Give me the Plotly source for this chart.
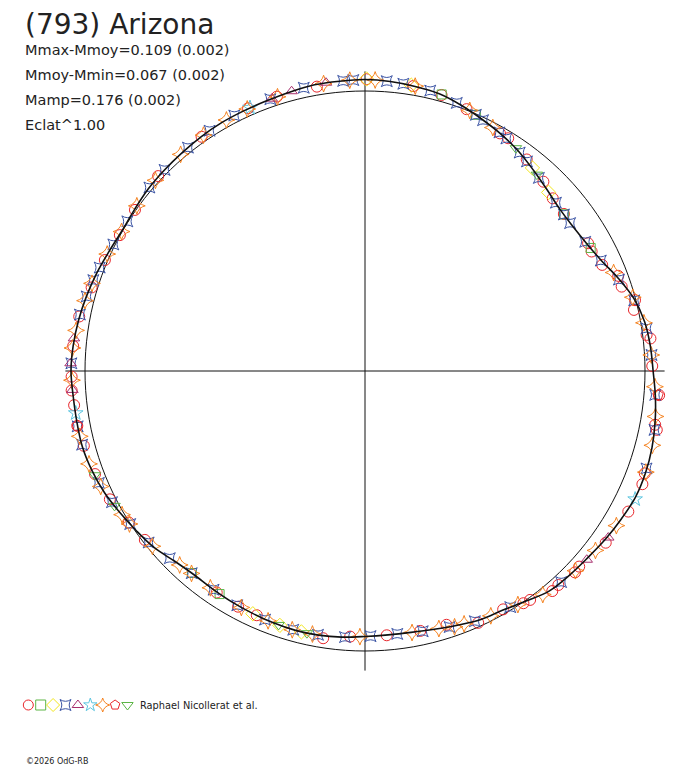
import numpy as np
import plotly.graph_objects as go

TITLE = "(793) Arizona"
STATS = [
    "Mmax-Mmoy=0.109 (0.002)",
    "Mmoy-Mmin=0.067 (0.002)",
    "Mamp=0.176 (0.002)",
    "Eclat^1.00",
]
CREDIT = "Raphael Nicollerat et al."
COPYRIGHT = "\u00a92026 OdG-RB"

# fitted curve: rotation phase in degrees (clockwise from top), flux relative to mean (=1)
curve_phase = [0, 5, 10, 15, 20, 25, 30, 35, 40, 45, 50, 55, 60, 65, 70, 75, 80, 85,
               90, 95, 100, 105, 110, 115, 120, 125, 130, 135, 140, 145, 150, 155, 160, 165, 170, 175,
               180, 185, 190, 195, 200, 205, 210, 215, 220, 225, 230, 235, 240, 245, 250, 255, 260, 265,
               270, 275, 280, 285, 290, 295, 300, 305, 310, 315, 320, 325, 330, 335, 340, 345, 350, 355]
curve_flux = [1.041, 1.038, 1.032, 1.025, 1.009, 0.991, 0.975, 0.957, 0.936, 0.918, 0.905, 0.904,
              0.913, 0.932, 0.964, 0.995, 1.014, 1.023, 1.029, 1.041, 1.052, 1.061, 1.066, 1.066,
              1.057, 1.048, 1.038, 1.032, 1.025, 1.003, 0.986, 0.979, 0.966, 0.955, 0.948, 0.946,
              0.948, 0.954, 0.958, 0.959, 0.957, 0.954, 0.952, 0.950, 0.950, 0.961, 0.982, 0.996,
              1.011, 1.027, 1.038, 1.045, 1.045, 1.046, 1.050, 1.046, 1.039, 1.030, 1.020, 1.009,
              1.002, 1.005, 1.011, 1.014, 1.017, 1.021, 1.024, 1.025, 1.027, 1.032, 1.038, 1.039]

# observing sessions (phase deg, relative flux)
s1_phase = [0.3, 9.6, 15.5, 21.2, 29.6, 31.6, 37.4, 43.3, 47.4, 51.7, 60.2, 62.2, 65.9, 69.4,
            71.8, 75.3, 77.2, 82.7, 83.5, 89.0, 94.7, 100.5, 101.4, 110.1, 112.2, 118.1, 125.5,
            132.4, 133.8, 137.9, 139.6, 144.2, 145.7, 149.9, 155.8, 162.2, 168.0, 175.3, 183.2,
            188.9, 203.9, 208.3, 213.8, 232.5, 237.3, 243.3, 249.1, 255.1, 259.2, 263.3, 266.2,
            268.9, 274.9, 280.8, 287.0, 293.1, 299.0, 305.0, 313.3, 325.1, 336.0, 342.2, 350.4]
s1_flux = [1.042, 1.032, 1.023, 1.003, 0.976, 0.976, 0.951, 0.929, 0.911, 0.905, 0.918, 0.915,
           0.928, 0.966, 0.965, 0.997, 0.985, 1.014, 1.026, 1.026, 1.054, 1.054, 1.063, 1.064,
           1.070, 1.066, 1.056, 1.036, 1.039, 1.030, 1.032, 1.008, 1.004, 0.984, 0.986, 0.952,
           0.949, 0.947, 0.950, 0.966, 0.954, 0.956, 0.952, 0.991, 1.002, 1.020, 1.032, 1.039,
           1.046, 1.046, 1.050, 1.048, 1.046, 1.039, 1.021, 1.010, 1.001, 1.003, 1.015, 1.020,
           1.027, 1.029, 1.030]

s2_phase = [15.5, 23.4, 51.8, 61.4, 213.1, 220.6]
s2_flux = [1.025, 0.997, 0.905, 0.918, 0.951, 0.950]

s3_phase = [0.3, 9.2, 39.5, 45.8, 193.7, 198.5, 204.8]
s3_flux = [1.043, 1.034, 0.940, 0.915, 0.959, 0.958, 0.955]

s4_phase = [4.3, 7.6, 13.1, 18.9, 23.4, 25.2, 29.4, 31.3, 35.3, 37.7, 42.0, 48.6, 51.8, 54.2,
            59.6, 64.9, 70.2, 75.3, 81.4, 86.8, 94.7, 101.5, 109.1, 137.1, 148.4, 156.3, 161.7,
            167.5, 173.0, 178.8, 184.3, 190.1, 195.5, 201.9, 208.6, 214.7, 220.6, 226.2, 231.6,
            236.9, 242.6, 247.2, 255.4, 259.1, 271.5, 281.2, 285.0, 288.5, 291.3, 296.7, 302.2,
            310.4, 315.1, 321.6, 327.1, 332.9, 340.8, 347.8, 355.7, 357.7]
s4_flux = [1.038, 1.035, 1.028, 1.012, 0.997, 0.990, 0.978, 0.972, 0.956, 0.946, 0.928, 0.909,
           0.904, 0.903, 0.912, 0.930, 0.964, 0.994, 1.017, 1.025, 1.040, 1.055, 1.064, 1.029,
           0.990, 0.976, 0.963, 0.952, 0.946, 0.947, 0.953, 0.957, 0.959, 0.957, 0.953, 0.950,
           0.951, 0.966, 0.986, 1.001, 1.018, 1.031, 1.044, 1.045, 1.049, 1.038, 1.029, 1.023,
           1.017, 1.006, 1.003, 1.011, 1.014, 1.018, 1.022, 1.025, 1.028, 1.035, 1.039, 1.040]

s5_phase = [124.4, 130.4, 266.3, 271.5, 276.4, 341.1, 345.3, 352.3]
s5_flux = [1.053, 1.040, 1.047, 1.052, 1.046, 1.028, 1.033, 1.039]

s6_phase = [115.4, 261.7, 336.4]
s6_flux = [1.068, 1.044, 1.026]

s7_phase = [2.0, 10.0, 21.9, 27.7, 68.4, 74.6, 80.2, 86.8, 93.1, 98.9, 104.5, 109.8, 121.6,
            127.9, 133.5, 141.5, 146.8, 152.8, 158.6, 160.7, 164.0, 169.8, 181.1, 191.3, 195.7,
            201.2, 207.6, 215.5, 220.6, 223.7, 230.5, 237.0, 239.4, 246.4, 251.4, 257.1, 268.2,
            274.5, 278.0, 284.1, 287.8, 294.4, 299.8, 305.9, 312.3, 319.6, 325.6, 331.1, 335.8,
            342.3, 351.8, 357.0]
s7_flux = [1.040, 1.033, 1.003, 0.982, 0.955, 0.992, 1.011, 1.024, 1.037, 1.050, 1.060, 1.066,
           1.054, 1.043, 1.036, 1.020, 0.997, 0.983, 0.970, 0.968, 0.957, 0.949, 0.949, 0.958,
           0.960, 0.957, 0.953, 0.951, 0.952, 0.958, 0.984, 1.003, 1.008, 1.030, 1.040, 1.045,
           1.047, 1.048, 1.042, 1.031, 1.024, 1.011, 1.002, 1.006, 1.012, 1.016, 1.021, 1.024,
           1.026, 1.028, 1.037, 1.040]

s8_phase = [94.7, 259.2]
s8_flux = [1.050, 1.046]

s9_phase = [34.1, 41.2, 192.5, 198.8, 241.7, 248.9]
s9_flux = [0.961, 0.932, 0.959, 0.958, 1.016, 1.034]

sessions = [
    (s1_phase, s1_flux, "circle-open", "#e8262b", 11),
    (s2_phase, s2_flux, "square-open", "#5cb545", 9),
    (s3_phase, s3_flux, "diamond-open", "#f2e61c", 11),
    (s4_phase, s4_flux, "star-square-open", "#3a53a4", 10),
    (s5_phase, s5_flux, "triangle-up-open", "#a8306e", 10),
    (s6_phase, s6_flux, "star-open", "#5ec6e0", 11),
    (s7_phase, s7_flux, "star-diamond-open", "#f5821f", 12),
    (s8_phase, s8_flux, "pentagon-open", "#e8262b", 11),
    (s9_phase, s9_flux, "triangle-down-open", "#5cb545", 10),
]

# the page body has an 8px margin, so the figure is shifted by 8px
OFF = 8
W, H = 688 - 2 * OFF, 768 - OFF
CX, CY, R1 = 365 - OFF, 371 - OFF, 280  # centre and mean-level radius in px
RMAX = 1.1
half = R1 * RMAX
CROSS_R = 1.07
TXT = "DejaVu Sans, Liberation Sans, sans-serif"


def px(x):
    return (x - OFF) / W


def py(y):
    return 1 - (y - OFF) / H


fig = go.Figure()

# mean-level reference circle
ring = np.arange(0, 362, 2)
fig.add_trace(go.Scatterpolar(theta=ring, r=np.ones(len(ring)), mode="lines",
                              line=dict(color="#111111", width=1), hoverinfo="skip"))
# crosshair
for a, b in [(0, 180), (90, 270)]:
    fig.add_trace(go.Scatterpolar(theta=[a, a, b], r=[CROSS_R, 0, CROSS_R], mode="lines",
                                  line=dict(color="#111111", width=1), hoverinfo="skip"))

for ph, fl, sym, col, sz in sessions:
    fig.add_trace(go.Scatterpolar(
        theta=ph, r=fl, mode="markers",
        marker=dict(symbol=sym, size=sz, color=col, line=dict(width=1, color=col)),
    ))

fig.add_trace(go.Scatterpolar(
    theta=curve_phase + [curve_phase[0] + 360], r=curve_flux + [curve_flux[0]],
    mode="lines", line=dict(color="#111111", width=1.6, shape="spline"), hoverinfo="skip"))

# symbol key at the bottom
for i, (ph, fl, sym, col, sz) in enumerate(sessions):
    fig.add_trace(go.Scatter(
        x=[i], y=[0], mode="markers", xaxis="x", yaxis="y",
        marker=dict(symbol=sym, size=10, color=col, line=dict(width=1, color=col)),
    ))

annotations = [
    dict(text=TITLE, x=px(23), y=py(24.5), xanchor="left", yanchor="middle",
         font=dict(size=28, color="#222222", family=TXT)),
]
for k, s in enumerate(STATS):
    annotations.append(dict(text=s, x=px(23), y=py(50 + 25 * k), xanchor="left",
                            yanchor="middle", font=dict(size=14.5, color="#222222", family=TXT)))
annotations.append(dict(text=CREDIT, x=px(138), y=py(705), xanchor="left",
                        yanchor="middle", font=dict(size=9.8, color="#222222", family=TXT)))
annotations.append(dict(text=COPYRIGHT, x=px(24), y=py(761), xanchor="left",
                        yanchor="middle", font=dict(size=8, color="#222222", family=TXT)))
for a in annotations:
    a.update(xref="paper", yref="paper", showarrow=False)

step = 12.4
key_x0 = 28.3
fig.update_layout(
    width=W, height=H,
    margin=dict(l=0, r=0, t=0, b=0),
    paper_bgcolor="white", plot_bgcolor="white",
    showlegend=False,
    font=dict(family="Liberation Sans, Arial, sans-serif"),
    polar=dict(
        domain=dict(x=[(CX - half) / W, (CX + half) / W],
                    y=[(H - CY - half) / H, (H - CY + half) / H]),
        bgcolor="white",
        radialaxis=dict(range=[0, RMAX], visible=False),
        angularaxis=dict(rotation=90, direction="clockwise", visible=False),
    ),
    xaxis=dict(domain=[px(key_x0 - step / 2), px(key_x0 + 8.5 * step)], range=[-0.5, 8.5],
               visible=False, fixedrange=True),
    yaxis=dict(domain=[py(715), py(695)], range=[-1, 1],
               visible=False, fixedrange=True),
    annotations=annotations,
)

fig.write_html("out.html")
